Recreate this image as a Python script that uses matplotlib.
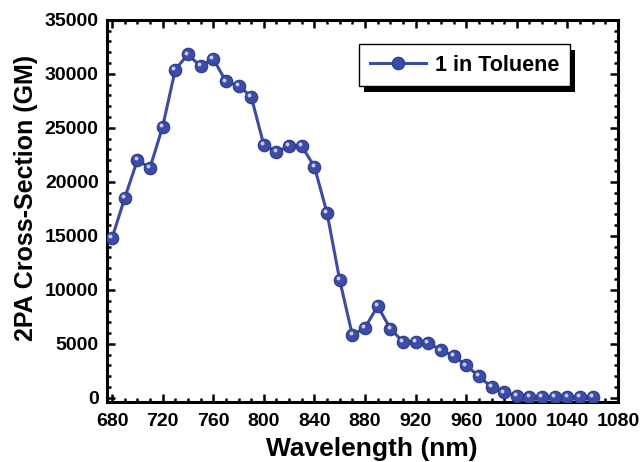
import matplotlib
matplotlib.use("Agg")
import matplotlib.pyplot as plt
import matplotlib.transforms as mtransforms
from matplotlib.patches import Rectangle
from matplotlib.ticker import MultipleLocator

wavelength = [680, 690, 700, 710, 720, 730, 740, 750, 760, 770, 780, 790, 800,
              810, 820, 830, 840, 850, 860, 870, 880, 890, 900, 910, 920, 930,
              940, 950, 960, 970, 980, 990, 1000, 1010, 1020, 1030, 1040, 1050, 1060]
cross_section = [14800, 18500, 22000, 21300, 25100, 30400, 31800, 30700, 31400,
                 29300, 28900, 27900, 23400, 22800, 23300, 23300, 21400, 17100,
                 10900, 5800, 6500, 8500, 6400, 5200, 5200, 5100, 4400, 3900,
                 3000, 2000, 1000, 500, 200, 60, 50, 50, 50, 50, 50]
series_label = "1 in Toluene"
x_ticks = [680, 720, 760, 800, 840, 880, 920, 960, 1000, 1040, 1080]
y_ticks = [0, 5000, 10000, 15000, 20000, 25000, 30000, 35000]

plt.rcParams['font.family'] = ['Liberation Sans', 'DejaVu Sans']
plt.rcParams['font.weight'] = 'bold'

fig = plt.figure(figsize=(6.43, 4.62), dpi=100)
ax = fig.add_axes([0.1664, 0.13, 0.7947, 0.827])

blue = '#3b4ba6'
ax.plot(wavelength, cross_section, '-', color=blue, lw=2.2, marker='o',
        ms=9, mfc=blue, mec='#2c3a8a', mew=0.8, label=series_label, zorder=3)
# highlight on spheres
offset = mtransforms.ScaledTranslation(-1.3/72, 1.3/72, fig.dpi_scale_trans)
ax.plot(wavelength, cross_section, 'o', color='#c9cff0', ms=2.8, mec='none',
        transform=ax.transData + offset, zorder=4)

ax.set_xlim(676, 1079)
ax.set_ylim(-380, 35000)
ax.set_xticks(x_ticks)
ax.set_yticks(y_ticks)
ax.xaxis.set_minor_locator(MultipleLocator(10))
ax.yaxis.set_minor_locator(MultipleLocator(1000))
ax.tick_params(which='both', direction='in', top=True, right=True, width=1.8)
ax.tick_params(which='major', length=5.5, labelsize=14)
ax.tick_params(which='minor', length=3)
ax.tick_params(axis='y', which='major', pad=6)
ax.tick_params(axis='x', which='major', pad=8)
for lab in ax.get_xticklabels() + ax.get_yticklabels():
    lab.set_fontweight('bold')
for s in ax.spines.values():
    s.set_linewidth(2.2)

ax.set_xlabel('Wavelength (nm)', fontsize=19, fontweight='bold', labelpad=5)
ax.set_ylabel('2PA Cross-Section (GM)', fontsize=18, fontweight='bold', labelpad=5)
ax.xaxis.label.set_x(0.518)
ax.yaxis.label.set_y(0.534)

leg = ax.legend(loc='upper right', bbox_to_anchor=(0.906, 0.937),
                prop={'weight': 'bold', 'size': 15.5}, frameon=True, fancybox=False,
                shadow=False, borderpad=0.5, borderaxespad=0,
                handlelength=2.6, handletextpad=0.4)
leg.get_frame().set_edgecolor('black')
leg.get_frame().set_linewidth(1.0)
leg.get_frame().set_alpha(1)
leg.set_zorder(6)

fig.canvas.draw()
bb = leg.get_window_extent()
shadow = Rectangle((bb.x0 + 5, bb.y0 - 6), bb.width, bb.height,
                   transform=mtransforms.IdentityTransform(), facecolor='black',
                   edgecolor='none', zorder=5.5, clip_on=False)
ax.add_patch(shadow)

fig.savefig('out.png', dpi=100)
